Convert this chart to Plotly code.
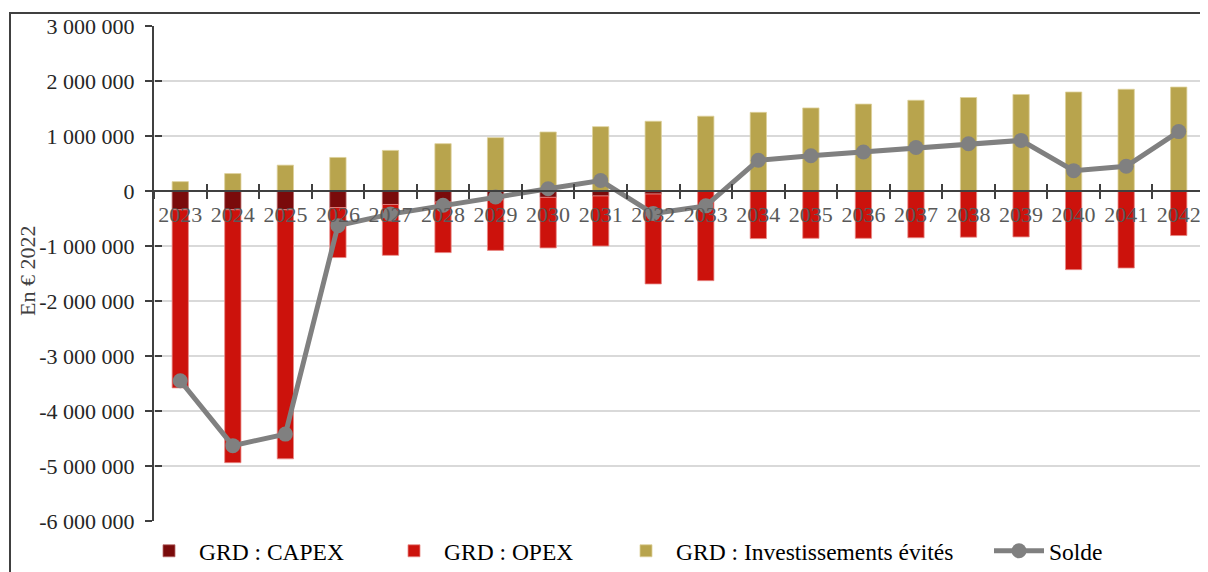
import plotly.graph_objects as go

years = ["2023", "2024", "2025", "2026", "2027", "2028", "2029", "2030", "2031", "2032",
         "2033", "2034", "2035", "2036", "2037", "2038", "2039", "2040", "2041", "2042"]

capex = [-340000, -340000, -340000, -300000, -245000, -200000, -160000, -115000, -90000, -55000,
         0, 0, 0, 0, 0, 0, 0, 0, 0, 0]

opex = [-3240000, -4600000, -4530000, -910000, -925000, -920000, -920000, -920000, -910000, -1635000,
        -1630000, -865000, -860000, -860000, -850000, -840000, -835000, -1430000, -1400000, -810000]

invest_evites = [170000, 317000, 470000, 610000, 738000, 860000, 970000, 1073000, 1170000, 1268000,
                 1360000, 1430000, 1510000, 1580000, 1650000, 1700000, 1755000, 1800000, 1850000, 1890000]

solde = [-3450000, -4630000, -4420000, -630000, -420000, -260000, -110000, 40000, 190000, -410000,
         -270000, 560000, 640000, 710000, 790000, 860000, 920000, 370000, 450000, 1080000]

y_tickvals = [-6000000, -5000000, -4000000, -3000000, -2000000, -1000000, 0, 1000000, 2000000, 3000000]
y_ticktext = ["-6 000 000", "-5 000 000", "-4 000 000", "-3 000 000", "-2 000 000", "-1 000 000",
              "0", "1 000 000", "2 000 000", "3 000 000"]

FONT = "Liberation Serif"
AXC = "#404040"

# page body has an 8px margin: work in screenshot pixels, then shift
OFF = 8
W, H = 1200, 564
L = 154 - OFF
R = W - (1205 - OFF)
T = 26 - OFF
B = H - (521 - OFF)
PW = W - L - R
PH = H - T - B

def px_x(px):
    return (px - OFF - L) / PW

def px_y(py):
    return (H - B - (py - OFF)) / PH

fig = go.Figure()
fig.add_trace(go.Bar(name="GRD : CAPEX", x=years, y=capex, legend="legend",
                     marker=dict(color="#7A0B0B", line=dict(color="#b86a6a", width=0.8))))
fig.add_trace(go.Bar(name="GRD : OPEX", x=years, y=opex, legend="legend2",
                     marker=dict(color="#CC120C", line=dict(color="#e88a86", width=0.8))))
fig.add_trace(go.Bar(name="GRD : Investissements évités", x=years, y=invest_evites, legend="legend3",
                     marker=dict(color="#B8A44D", line=dict(color="#ddd09a", width=0.8))))
fig.add_trace(go.Scatter(name="Solde", x=years, y=solde, mode="lines+markers", legend="legend4",
                         xaxis="x2", yaxis="y2",
                         line=dict(color="#808080", width=5),
                         marker=dict(color="#808080", size=15)))

zero_pos = 6 / 9
leg_y = px_y(551)

def legend_at(text_x):
    return dict(orientation="h", x=px_x(text_x - 61), xanchor="left", y=leg_y, yanchor="middle",
                itemwidth=50, font=dict(family=FONT, size=23.5, color="#000000"),
                bgcolor="rgba(0,0,0,0)")

fig.update_layout(
    width=W, height=H,
    margin=dict(l=L, r=R, t=T, b=B, autoexpand=False),
    paper_bgcolor="white", plot_bgcolor="white",
    barmode="relative", bargap=0.69,
    font=dict(family=FONT, size=22, color="#262626"),
    showlegend=True,
    legend=legend_at(200),
    legend2=legend_at(445),
    legend3=legend_at(677),
    legend4=legend_at(1050),
    xaxis=dict(type="category", range=[-0.5, 19.5], anchor="free", position=zero_pos,
               showline=True, linecolor=AXC, linewidth=2,
               ticks="outside", ticklen=7, tickwidth=2, tickcolor=AXC,
               tickson="boundaries", showgrid=False, zeroline=False, tickangle=0,
               tickfont=dict(family=FONT, size=22, color="#595959"),
               ticklabelstandoff=4),
    yaxis=dict(range=[-6000000, 3000000], tickmode="array", tickvals=y_tickvals, ticktext=y_ticktext,
               showline=True, linecolor=AXC, linewidth=2,
               ticks="outside", ticklen=7, tickwidth=2, tickcolor=AXC,
               showgrid=True, gridcolor="#d9d9d9", gridwidth=1.5, zeroline=False,
               tickfont=dict(family=FONT, size=22, color="#262626"),
               ticklabelstandoff=6),
    xaxis2=dict(type="category", overlaying="x", matches="x", anchor="free", position=zero_pos,
                showline=False, ticks="inside", ticklen=7, tickwidth=2, tickcolor=AXC,
                tickson="boundaries", showticklabels=False, showgrid=False, zeroline=False),
    yaxis2=dict(overlaying="y", matches="y", anchor="free", position=0, side="left",
                tickmode="array", tickvals=y_tickvals,
                showline=False, ticks="inside", ticklen=7, tickwidth=2, tickcolor=AXC,
                showticklabels=False, showgrid=False, zeroline=False),
    annotations=[dict(text="En € 2022", textangle=-90, xref="paper", yref="paper",
                      x=px_x(27), y=px_y(271), xanchor="center", yanchor="middle",
                      showarrow=False, font=dict(family=FONT, size=22, color="#404040"))],
    shapes=[dict(type="rect", xref="paper", yref="paper",
                 x0=px_x(10), x1=1.05, y0=-0.3, y1=px_y(13),
                 line=dict(color=AXC, width=2), fillcolor="rgba(0,0,0,0)", layer="below")],
)

fig.write_html("out.html")
